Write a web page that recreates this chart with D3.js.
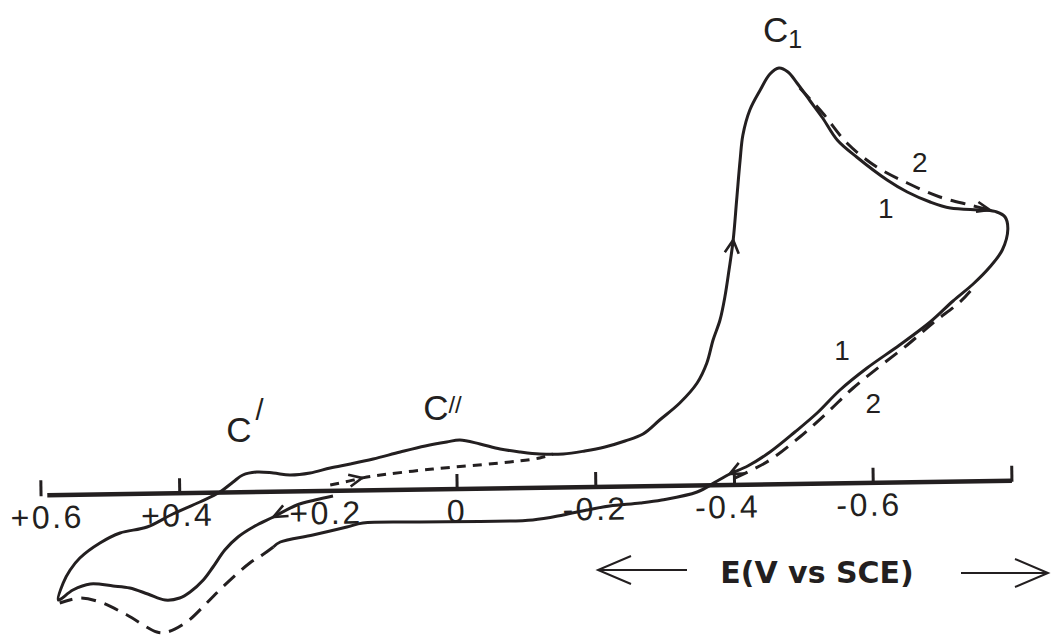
<!DOCTYPE html>
<html><head><meta charset="utf-8">
<script src="https://cdn.jsdelivr.net/npm/d3@7"></script>
<style>body{margin:0;background:#fff} svg{display:block}</style>
</head><body>
<svg id="chart" width="1051" height="637"></svg>
<script>
// ---- data (E in V vs SCE, current in arbitrary units) ----
const tickMarks   = [0.6, 0.4, 0, -0.2, -0.4, -0.6, -0.8];
const tickLabels  = ["+0.6", "+0.4", "+0.2", "0", "-0.2", "-0.4", "-0.6"];
const tickLabelAt = [0.593, 0.405, 0.191, 0.002, -0.197, -0.388, -0.592];
const axisStart = 0.591, axisEnd = -0.8;

// scan 1 (solid)
const scan1E = [0.179,0.205,0.231,0.265,0.294,0.316,0.335,0.352,0.366,0.385,0.400,0.421,0.446,0.472,0.496,0.529,0.554,0.575,
  0.568,0.558,0.544,0.515,0.486,0.447,0.410,0.371,0.342,0.323,0.309,0.289,0.265,0.241,0.212,0.183,0.154,0.121,0.082,0.046,0.015,
  -0.004,-0.033,-0.062,-0.091,-0.119,-0.153,-0.184,-0.213,-0.242,-0.268,-0.292,-0.321,-0.346,-0.360,-0.369,-0.379,-0.386,-0.392,-0.398,-0.403,-0.408,-0.412,-0.422,-0.437,-0.451,-0.464,
  -0.477,-0.490,-0.509,-0.527,-0.548,-0.576,-0.620,-0.649,-0.682,-0.711,-0.758,-0.778,-0.790,-0.794,-0.786,-0.768,-0.744,-0.715,-0.682,-0.638,-0.591,-0.552,-0.519,-0.487,-0.451,
  -0.419,-0.393,-0.375,-0.346,-0.295,-0.264,-0.220,-0.187,-0.153,-0.109,-0.033,0.054,0.136,0.159,0.208,0.255,0.265];
const scan1I = [-1.75,-2.75,-4.0,-7.0,-9.5,-12.0,-15.25,-19.5,-22.75,-25.75,-27.25,-27.75,-26.25,-24.75,-24.25,-23.75,-25.25,-27.75,
  -23.5,-20.25,-17.25,-13.5,-11.0,-9.5,-6.25,-3.25,-0.75,1.75,3.5,4.25,4.0,3.5,4.0,5.25,6.25,7.5,9.25,10.75,11.75,
  12.25,11.25,10.0,9.25,8.75,8.75,9.5,10.5,12.0,13.75,17.25,21.5,26.5,31.5,37.25,42.25,48.0,54.75,62.25,72.25,82.25,88.5,94.75,99.75,103.75,105.25,
  104.25,101.5,97.0,92.75,87.25,83.0,77.25,74.25,71.75,70.25,69.75,69.25,68.0,65.0,59.75,55.5,51.25,47.0,41.75,36.0,30.25,24.75,19.0,14.25,9.25,
  5.75,3.75,2.0,-0.75,-2.75,-3.5,-4.25,-5.25,-6.5,-7.75,-8.1,-8.25,-8.5,-9.5,-11.5,-13.25,-14.5];

// scan 2 (dashed) where it departs from scan 1
const scan2aE = [-0.494,-0.527,-0.562,-0.605,-0.649,-0.696,-0.739,-0.768];
const scan2aI = [100.25,94.0,86.5,80.5,76.5,73.0,71.0,69.75];
const scan2bE = [-0.740,-0.725,-0.686,-0.649,-0.610,-0.571,-0.533,-0.494,-0.451,-0.419,-0.391];
const scan2bI = [49.5,46.75,41.5,36.0,30.75,25.25,19.0,13.0,7.25,4.25,2.0];
const scan2cE = [0.265,0.281,0.299,0.338,0.361,0.390,0.418,0.433,0.476,0.515,0.544,0.573];
const scan2cI = [-14.5,-16.5,-18.5,-24.5,-28.5,-33.25,-35.75,-35.75,-31.5,-28.25,-27.25,-28.5];

// initial scan (dotted)
const dottedE = [0.183,0.162,0.137,0.121,0.035,-0.062,-0.119,-0.138];
const dottedI = [1.0,1.75,2.75,3.25,5.0,6.5,7.75,8.75];

// ---- drawing ----
const ink = '#231f20';
const svg = d3.select('#chart');
const x = d3.scaleLinear().domain([0.6, -0.8]).range([41, 1012]);
const y = d3.scaleLinear().domain([-40, 110]).range([649, 49]);
const zip = (a, b) => a.map((v, i) => [v, b[i]]);
const line = d3.line().x(d => x(d[0])).y(d => y(d[1])).curve(d3.curveCatmullRom.alpha(0.5));
const font = 'Liberation Sans, Arial, sans-serif';

// axis (slightly tilted as in the original drawing)
const ax = svg.append('g').attr('transform', `rotate(-0.86 ${x(0)} ${y(0)})`);
ax.append('line').attr('x1', x(axisStart)).attr('x2', x(axisEnd))
  .attr('y1', y(0)).attr('y2', y(0)).attr('stroke', ink).attr('stroke-width', 4.5);
ax.selectAll('line.tk').data(tickMarks).join('line').attr('class', 'tk')
  .attr('x1', d => x(d)).attr('x2', d => x(d))
  .attr('y1', y(0) - 15).attr('y2', y(0) + 1)
  .attr('stroke', ink).attr('stroke-width', 3);
ax.selectAll('text.tl').data(tickLabels).join('text').attr('class', 'tl')
  .attr('x', (d, i) => x(tickLabelAt[i]) + 1).attr('y', y(0) + 33)
  .attr('text-anchor', 'middle').attr('font-family', font).attr('font-size', 32)
  .attr('letter-spacing', 2.5).attr('fill', ink).text(d => d);

const curves = [
  {pts: zip(scan1E, scan1I), dash: null},
  {pts: zip(scan2aE, scan2aI), dash: '15,9'},
  {pts: zip(scan2bE, scan2bI), dash: '15,9'},
  {pts: zip(scan2cE, scan2cI), dash: '15,9'},
  {pts: zip(dottedE, dottedI), dash: '9,7'}
];
svg.selectAll('path.cv').data(curves).join('path').attr('class', 'cv')
  .attr('d', d => line(d.pts)).attr('fill', 'none').attr('stroke', ink)
  .attr('stroke-width', 3).attr('stroke-linejoin', 'round')
  .attr('stroke-dasharray', d => d.dash);

function arrowHead(pts, idx, a, b, L, W) {
  const px = x(pts[idx][0]), py = y(pts[idx][1]);
  let dx = x(pts[b][0]) - x(pts[a][0]), dy = y(pts[b][1]) - y(pts[a][1]);
  const n = Math.hypot(dx, dy); dx /= n; dy /= n;
  const bx = px - L * dx, by = py - L * dy;
  return `M${bx - W * dy},${by + W * dx}L${px},${py}L${bx + W * dy},${by - W * dx}`;
}
const s1 = curves[0].pts, s2a = curves[1].pts, dt = curves[4].pts;
const heads = [
  arrowHead(s1, 3, 2, 4, 14, 6),
  arrowHead(s1, 57, 56, 58, 13, 7),
  arrowHead(s1, 91, 90, 92, 13, 6),
  arrowHead(dt, 2, 1, 3, 13, 6),
  arrowHead(s2a, 7, 6, 7, 13, 5)
];
svg.selectAll('path.ah').data(heads).join('path').attr('class', 'ah')
  .attr('d', d => d).attr('fill', 'none').attr('stroke', ink)
  .attr('stroke-width', 2.6).attr('stroke-linejoin', 'miter');

// peak labels
function cLabel(E, I, sup, supSize, dx, supDy) {
  const t = svg.append('text').attr('x', x(E)).attr('y', y(I))
    .attr('font-family', font).attr('font-size', 35).attr('fill', ink);
  t.append('tspan').text('C');
  t.append('tspan').attr('font-size', supSize).attr('dx', dx).attr('dy', supDy).text(sup);
}
cLabel(-0.441, 111.75, '1', 25, 0, 6);
cLabel(0.333, 11.75, '/', 29, 4, -22);
cLabel(0.049, 17.25, '//', 24, 0, -7);

const numE = [-0.667, -0.618, -0.555, -0.600];
const numI = [79.25, 67.75, 32.25, 19.0];
const numT = ['2', '1', '1', '2'];
svg.selectAll('text.num').data(numT).join('text').attr('class', 'num')
  .attr('x', (d, i) => x(numE[i])).attr('y', (d, i) => y(numI[i]))
  .attr('text-anchor', 'middle').attr('font-family', font).attr('font-size', 28)
  .attr('fill', ink).text(d => d);

// axis title with direction arrows
svg.append('text').attr('x', 817).attr('y', 583).attr('text-anchor', 'middle')
  .attr('font-family', 'DejaVu Sans').attr('font-weight', 'bold').attr('font-size', 30)
  .attr('fill', ink).text('E(V vs SCE)');
const arr = svg.append('g').attr('fill', 'none').attr('stroke', ink).attr('stroke-width', 2);
arr.append('path').attr('d', 'M687,570H598M631,556L598,570L631,584');
arr.append('path').attr('d', 'M961,573H1048M1015,559L1048,573L1015,587');
</script>
</body></html>
